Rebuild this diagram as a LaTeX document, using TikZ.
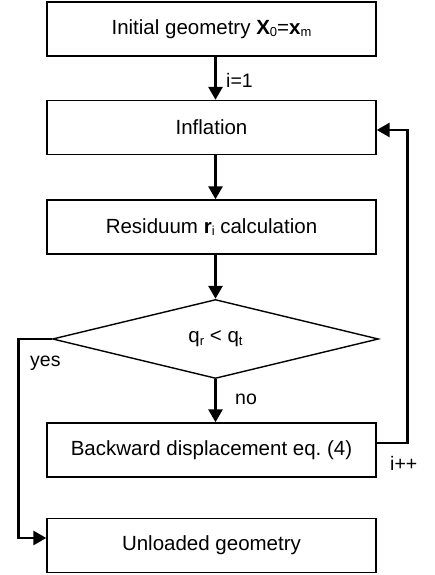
\documentclass[tikz,border=0pt]{standalone}
\usepackage{fontspec}
\setmainfont{Liberation Sans}
\usetikzlibrary{shapes.geometric,arrows.meta}

\tikzset{
  stepbox/.style={draw,line width=1.4pt,minimum width=329pt,minimum height=54pt,inner sep=0pt,font=\fontsize{20.5}{24}\selectfont},
  test/.style={draw,diamond,line width=1.4pt,minimum width=326pt,minimum height=79pt,inner sep=0pt,font=\fontsize{20.5}{24}\selectfont},
  flow/.style={line width=2.8pt,-{Triangle[length=13pt,width=14pt]}},
  lbl/.style={anchor=west,inner sep=0pt,font=\fontsize{19.5}{22}\selectfont}
}
\newcommand{\sub}[1]{\raisebox{-0.25ex}{\fontsize{13}{14}\selectfont #1}}

\begin{document}
\begin{tikzpicture}[x=1pt,y=1pt]
\useasboundingbox (0,0) rectangle (435,575);

\node[stepbox] (init) at (211.5,546) {Initial geometry \textbf{X}\sub{0}=\textbf{x}\sub{m}};
\node[stepbox] (infl) at (211.5,447.5) {Inflation};
\node[stepbox] (resi) at (211.5,348) {Residuum \textbf{r}\sub{i} calculation};
\node[test] (dec) at (215.5,236) {q\sub{r} < q\sub{t}};
\node[stepbox] (back) at (211.5,125) {Backward displacement eq.\ (4)};
\node[stepbox] (unl) at (211.5,29.5) {Unloaded geometry};

\draw[flow] (init.south -| dec.north) -- (infl.north -| dec.north);
\draw[flow] (infl.south -| dec.north) -- (resi.north -| dec.north);
\draw[flow] (resi.south -| dec.north) -- (dec.north);
\draw[flow] (dec.south) -- (back.north -| dec.south);
\draw[flow] ([yshift=7pt]back.east) -- ++(31,0) |- ([yshift=-2.5pt]infl.east);
\draw[flow] (dec.west) -- ++(-33,0) |- ([yshift=7.5pt]unl.west);

\node[lbl] (one) at (226,495) {i=1};
\node[lbl] (no) at (235,176) {no};
\node[lbl] (yes) at (30,212) {yes};
\node[lbl] (inc) at (390,112) {i++};
\end{tikzpicture}
\end{document}
